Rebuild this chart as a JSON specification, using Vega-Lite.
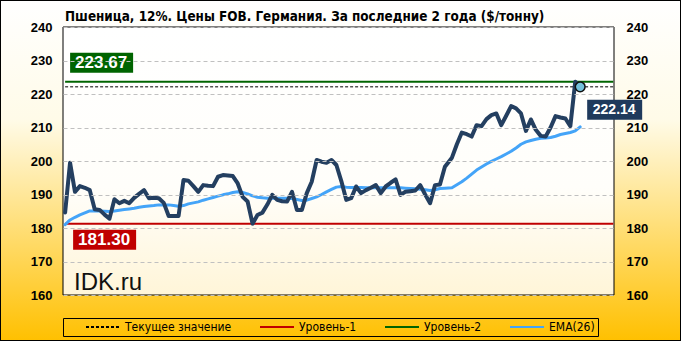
{
  "$schema": "https://vega.github.io/schema/vega-lite/v6.json",
  "width": 681,
  "height": 341,
  "autosize": {"type": "none"},
  "padding": 0,
  "view": {
    "fill": {"gradient": "linear", "x1": 0, "y1": 0, "x2": 0, "y2": 1, "stops": [{"offset": 0, "color": "#ffffff"}, {"offset": 0.35, "color": "#fffbe8"}, {"offset": 1, "color": "#ffc000"}]},
    "stroke": "black",
    "strokeWidth": 2
  },
  "title": {
    "text": "Пшеница, 12%. Цены FOB. Германия. За последние 2 года ($/тонну)",
    "anchor": "start", "frame": "group", "dx": 65, "offset": -23,
    "font": "DejaVu Sans Condensed", "fontSize": 13.4, "fontWeight": "bold", "color": "black"
  },
  "datasets": {
    "prices": [
      {"date": "2016-07-15", "price": 184.6, "ema": 181.0},
      {"date": "2016-07-22", "price": 199.5, "ema": 182.4},
      {"date": "2016-07-29", "price": 190.8, "ema": 183.2},
      {"date": "2016-08-05", "price": 192.5, "ema": 183.9},
      {"date": "2016-08-12", "price": 192.0, "ema": 184.5},
      {"date": "2016-08-19", "price": 191.3, "ema": 185.1},
      {"date": "2016-08-26", "price": 185.6, "ema": 185.1},
      {"date": "2016-09-02", "price": 185.4, "ema": 185.1},
      {"date": "2016-09-09", "price": 184.0, "ema": 185.0},
      {"date": "2016-09-16", "price": 182.8, "ema": 184.9},
      {"date": "2016-09-23", "price": 188.6, "ema": 185.1},
      {"date": "2016-09-30", "price": 187.4, "ema": 185.3},
      {"date": "2016-10-07", "price": 188.1, "ema": 185.5},
      {"date": "2016-10-14", "price": 187.4, "ema": 185.7},
      {"date": "2016-10-21", "price": 189.0, "ema": 185.9},
      {"date": "2016-10-28", "price": 190.2, "ema": 186.2},
      {"date": "2016-11-04", "price": 191.3, "ema": 186.4},
      {"date": "2016-11-11", "price": 188.9, "ema": 186.6},
      {"date": "2016-11-18", "price": 189.0, "ema": 186.7},
      {"date": "2016-11-25", "price": 188.9, "ema": 186.9},
      {"date": "2016-12-02", "price": 187.5, "ema": 186.9},
      {"date": "2016-12-09", "price": 183.6, "ema": 186.9},
      {"date": "2016-12-16", "price": 183.6, "ema": 186.7},
      {"date": "2016-12-23", "price": 183.6, "ema": 186.5},
      {"date": "2016-12-30", "price": 194.3, "ema": 186.7},
      {"date": "2017-01-06", "price": 194.1, "ema": 187.2},
      {"date": "2017-01-13", "price": 192.5, "ema": 187.5},
      {"date": "2017-01-20", "price": 190.8, "ema": 187.8},
      {"date": "2017-01-27", "price": 192.8, "ema": 188.3},
      {"date": "2017-02-03", "price": 192.6, "ema": 188.7},
      {"date": "2017-02-10", "price": 192.5, "ema": 189.1},
      {"date": "2017-02-17", "price": 195.3, "ema": 189.5},
      {"date": "2017-02-24", "price": 195.8, "ema": 189.9},
      {"date": "2017-03-03", "price": 195.7, "ema": 190.2},
      {"date": "2017-03-10", "price": 195.5, "ema": 190.6},
      {"date": "2017-03-17", "price": 193.3, "ema": 190.8},
      {"date": "2017-03-24", "price": 189.3, "ema": 190.6},
      {"date": "2017-03-31", "price": 187.9, "ema": 190.2},
      {"date": "2017-04-07", "price": 181.3, "ema": 189.6},
      {"date": "2017-04-14", "price": 183.9, "ema": 189.2},
      {"date": "2017-04-21", "price": 184.6, "ema": 189.0},
      {"date": "2017-04-28", "price": 187.0, "ema": 188.9},
      {"date": "2017-05-05", "price": 189.9, "ema": 188.9},
      {"date": "2017-05-12", "price": 188.4, "ema": 188.9},
      {"date": "2017-05-19", "price": 188.0, "ema": 188.9},
      {"date": "2017-05-26", "price": 187.9, "ema": 188.9},
      {"date": "2017-06-02", "price": 190.8, "ema": 188.8},
      {"date": "2017-06-09", "price": 185.4, "ema": 188.5},
      {"date": "2017-06-16", "price": 185.4, "ema": 188.2},
      {"date": "2017-06-23", "price": 190.4, "ema": 188.3},
      {"date": "2017-06-30", "price": 193.8, "ema": 188.8},
      {"date": "2017-07-07", "price": 200.3, "ema": 189.3},
      {"date": "2017-07-14", "price": 199.8, "ema": 190.0},
      {"date": "2017-07-21", "price": 199.5, "ema": 190.8},
      {"date": "2017-07-28", "price": 200.3, "ema": 191.5},
      {"date": "2017-08-04", "price": 198.8, "ema": 192.2},
      {"date": "2017-08-11", "price": 194.0, "ema": 192.4},
      {"date": "2017-08-18", "price": 188.4, "ema": 192.2},
      {"date": "2017-08-25", "price": 188.9, "ema": 192.1},
      {"date": "2017-09-01", "price": 192.4, "ema": 192.1},
      {"date": "2017-09-08", "price": 190.4, "ema": 192.1},
      {"date": "2017-09-15", "price": 191.3, "ema": 192.0},
      {"date": "2017-09-22", "price": 192.0, "ema": 192.0},
      {"date": "2017-09-29", "price": 192.8, "ema": 192.0},
      {"date": "2017-10-06", "price": 190.4, "ema": 192.0},
      {"date": "2017-10-13", "price": 192.4, "ema": 192.0},
      {"date": "2017-10-20", "price": 193.5, "ema": 192.0},
      {"date": "2017-10-27", "price": 194.5, "ema": 192.0},
      {"date": "2017-11-03", "price": 189.9, "ema": 192.0},
      {"date": "2017-11-10", "price": 190.8, "ema": 191.9},
      {"date": "2017-11-17", "price": 191.0, "ema": 191.8},
      {"date": "2017-11-24", "price": 191.2, "ema": 191.7},
      {"date": "2017-12-01", "price": 192.8, "ema": 191.6},
      {"date": "2017-12-08", "price": 190.0, "ema": 191.4},
      {"date": "2017-12-15", "price": 187.4, "ema": 191.2},
      {"date": "2017-12-22", "price": 192.8, "ema": 191.4},
      {"date": "2017-12-29", "price": 193.0, "ema": 191.8},
      {"date": "2018-01-05", "price": 198.3, "ema": 191.9},
      {"date": "2018-01-15", "price": 201.0, "ema": 192.0},
      {"date": "2018-01-22", "price": 205.0, "ema": 192.9},
      {"date": "2018-01-29", "price": 208.5, "ema": 193.8},
      {"date": "2018-02-05", "price": 208.0, "ema": 194.9},
      {"date": "2018-02-12", "price": 207.3, "ema": 196.1},
      {"date": "2018-02-19", "price": 210.7, "ema": 197.3},
      {"date": "2018-02-26", "price": 210.4, "ema": 198.2},
      {"date": "2018-03-05", "price": 212.5, "ema": 199.1},
      {"date": "2018-03-12", "price": 213.7, "ema": 199.9},
      {"date": "2018-03-19", "price": 214.2, "ema": 200.6},
      {"date": "2018-03-26", "price": 210.7, "ema": 201.3},
      {"date": "2018-04-02", "price": 213.5, "ema": 202.1},
      {"date": "2018-04-09", "price": 216.4, "ema": 202.9},
      {"date": "2018-04-16", "price": 215.7, "ema": 203.9},
      {"date": "2018-04-23", "price": 214.2, "ema": 205.0},
      {"date": "2018-04-30", "price": 209.0, "ema": 205.7},
      {"date": "2018-05-07", "price": 212.4, "ema": 206.1},
      {"date": "2018-05-14", "price": 209.3, "ema": 206.5},
      {"date": "2018-05-21", "price": 207.5, "ema": 206.8},
      {"date": "2018-05-28", "price": 207.3, "ema": 206.9},
      {"date": "2018-06-04", "price": 210.0, "ema": 207.0},
      {"date": "2018-06-11", "price": 213.4, "ema": 207.4},
      {"date": "2018-06-18", "price": 213.0, "ema": 207.9},
      {"date": "2018-06-25", "price": 212.7, "ema": 208.2},
      {"date": "2018-07-02", "price": 210.4, "ema": 208.5},
      {"date": "2018-07-09", "price": 223.67, "ema": 209.0},
      {"date": "2018-07-16", "price": 222.14, "ema": 210.2}
    ],
    "levels": [
      {"series": "Текущее значение", "value": 222.14, "label": "222.14"},
      {"series": "Уровень-1", "value": 181.30, "label": "181.30"},
      {"series": "Уровень-2", "value": 223.67, "label": "223.67"}
    ]
  },
  "resolve": {"axis": {"y": "independent"}},
  "layer": [
    {
      "data": {"values": [{"from": "2016-07-12", "to": "2018-09-02", "lo": 160, "hi": 240}]},
      "mark": {
        "type": "rect", "stroke": "black", "strokeWidth": 1,
        "fill": {"gradient": "linear", "x1": 0, "y1": 0, "x2": 0, "y2": 1, "stops": [{"offset": 0, "color": "#ffffff"}, {"offset": 0.6, "color": "#fffefa"}, {"offset": 1, "color": "#fff5d8"}]}
      },
      "encoding": {
        "x": {
          "field": "from", "type": "temporal",
          "scale": {"type": "utc", "domain": [{"year": 2016, "month": 7, "date": 12, "utc": true}, {"year": 2018, "month": 9, "date": 2, "utc": true}], "range": [63, 614], "nice": false},
          "axis": {
            "orient": "bottom", "offset": -46, "title": null,
            "values": [{"year": 2016, "month": 7, "date": 15, "utc": true}, {"year": 2017, "month": 1, "date": 13, "utc": true}, {"year": 2017, "month": 7, "date": 14, "utc": true}, {"year": 2018, "month": 1, "date": 15, "utc": true}, {"year": 2018, "month": 7, "date": 16, "utc": true}],
            "format": "%d.%m.%Y", "labelFont": "Liberation Sans", "labelFontWeight": "bold", "labelFontSize": 12, "labelColor": "black",
            "labelPadding": 5, "ticks": false, "domain": false, "labelOverlap": false, "labelFlush": false,
            "grid": true, "gridColor": "#c0c0c0", "gridDash": [4, 3], "gridWidth": 1, "zindex": 1
          }
        },
        "x2": {"field": "to"},
        "y": {
          "field": "lo", "type": "quantitative",
          "scale": {"domain": [160, 240], "range": [295, 27], "nice": false, "zero": false},
          "axis": {
            "orient": "left", "offset": -63, "title": null, "values": [160, 170, 180, 190, 200, 210, 220, 230, 240],
            "labelFont": "Liberation Sans", "labelFontWeight": "bold", "labelFontSize": 13, "labelColor": "black",
            "labelPadding": 11, "ticks": false, "domain": false,
            "grid": true, "gridColor": "#c0c0c0", "gridDash": [4, 3], "gridWidth": 1,
            "zindex": 1
          }
        },
        "y2": {"field": "hi"}
      }
    },
    {
      "data": {"name": "levels"},
      "mark": {"type": "rule"},
      "encoding": {
        "x": {"datum": {"year": 2016, "month": 7, "date": 15, "utc": true}, "type": "temporal", "axis": null},
        "x2": {"datum": {"year": 2018, "month": 9, "date": 1, "utc": true}},
        "y": {
          "field": "value", "type": "quantitative",
          "axis": {
            "orient": "right", "offset": -67, "title": null, "values": [160, 170, 180, 190, 200, 210, 220, 230, 240],
            "labelFont": "Liberation Sans", "labelFontWeight": "bold", "labelFontSize": 13, "labelColor": "black",
            "labelPadding": 12, "ticks": false, "domain": false, "grid": false, "zindex": 1
          }
        },
        "color": {
          "field": "series", "type": "nominal",
          "scale": {"domain": ["Текущее значение", "Уровень-1", "Уровень-2", "EMA(26)"], "range": ["#000000", "#c00000", "#006400", "#44a4f8"]},
          "legend": {
            "orient": "none", "legendX": 63, "legendY": 318, "direction": "horizontal", "columns": 4,
            "title": "\u00a0", "titleOrient": "left", "titlePadding": 19, "titleFontSize": 12,
            "strokeColor": "black", "padding": 3, "symbolType": "stroke", "symbolSize": 1156, "symbolStrokeWidth": 2,
            "labelOffset": 4, "columnPadding": 27, "clipHeight": 12,
            "labelFont": "DejaVu Sans Condensed", "labelFontSize": 12, "labelColor": "black", "labelLimit": 300,
            "labelExpr": "datum.label === 'EMA(26)' ? 'EMA(26)\u00a0\u00a0\u00a0\u00a0\u00a0' : datum.label"
          }
        },
        "strokeDash": {
          "field": "series", "type": "nominal",
          "scale": {"domain": ["Текущее значение", "Уровень-1", "Уровень-2", "EMA(26)"], "range": [[3, 2], [1, 0], [1, 0], [1, 0]]},
          "legend": {
            "orient": "none", "legendX": 63, "legendY": 318, "direction": "horizontal", "columns": 4,
            "title": "\u00a0", "titleOrient": "left", "titlePadding": 19, "titleFontSize": 12,
            "strokeColor": "black", "padding": 3, "symbolType": "stroke", "symbolSize": 1156, "symbolStrokeWidth": 2,
            "labelOffset": 4, "columnPadding": 27, "clipHeight": 12,
            "labelFont": "DejaVu Sans Condensed", "labelFontSize": 12, "labelColor": "black", "labelLimit": 300,
            "labelExpr": "datum.label === 'EMA(26)' ? 'EMA(26)\u00a0\u00a0\u00a0\u00a0\u00a0' : datum.label"
          }
        },
        "strokeWidth": {"condition": {"test": "datum.series === 'Текущее значение'", "value": 1}, "value": 2}
      }
    },
    {
      "data": {"name": "prices"},
      "mark": {"type": "line", "strokeWidth": 3, "strokeJoin": "round", "strokeCap": "round"},
      "encoding": {
        "x": {"field": "date", "type": "temporal", "axis": null},
        "y": {"field": "ema", "type": "quantitative", "axis": null},
        "color": {"datum": "EMA(26)"}
      }
    },
    {
      "data": {"name": "prices"},
      "mark": {"type": "line", "strokeWidth": 4, "strokeJoin": "round", "strokeCap": "round", "color": "#243f60"},
      "encoding": {
        "x": {"field": "date", "type": "temporal", "axis": null},
        "y": {"field": "price", "type": "quantitative", "axis": null}
      }
    },
    {
      "data": {"name": "levels"},
      "transform": [{"filter": "datum.series === 'Текущее значение'"}],
      "mark": {"type": "point", "shape": "circle", "filled": true, "size": 95, "fill": "#74c0da", "stroke": "#111111", "strokeWidth": 1.5, "opacity": 1},
      "encoding": {
        "x": {"datum": {"year": 2018, "month": 7, "date": 16, "utc": true}, "type": "temporal", "axis": null},
        "y": {"field": "value", "type": "quantitative", "axis": null}
      }
    },
    {
      "data": {"name": "levels"},
      "transform": [{"filter": "datum.series === 'Текущее значение'"}],
      "mark": {"type": "point", "shape": "M7,13H62V33H7Z", "filled": true, "size": 4, "fill": "#1f3a5c", "strokeWidth": 0, "opacity": 1},
      "encoding": {
        "x": {"datum": {"year": 2018, "month": 7, "date": 16, "utc": true}, "type": "temporal", "axis": null},
        "y": {"field": "value", "type": "quantitative", "axis": null}
      }
    },
    {
      "data": {"name": "levels"},
      "transform": [{"filter": "datum.series === 'Текущее значение'"}],
      "mark": {"type": "text", "dx": 34, "dy": 23, "align": "center", "baseline": "middle", "font": "Liberation Sans", "fontSize": 14, "fontWeight": "bold", "color": "white"},
      "encoding": {
        "x": {"datum": {"year": 2018, "month": 7, "date": 16, "utc": true}, "type": "temporal", "axis": null},
        "y": {"field": "value", "type": "quantitative", "axis": null},
        "text": {"field": "label"}
      }
    },
    {
      "data": {"name": "levels"},
      "transform": [{"filter": "datum.series === 'Уровень-2'"}],
      "mark": {"type": "point", "shape": "M5,-29H68V-9H5Z", "filled": true, "size": 4, "fill": "#006400", "strokeWidth": 0, "opacity": 1},
      "encoding": {
        "x": {"datum": {"year": 2016, "month": 7, "date": 15, "utc": true}, "type": "temporal", "axis": null},
        "y": {"field": "value", "type": "quantitative", "axis": null}
      }
    },
    {
      "data": {"name": "levels"},
      "transform": [{"filter": "datum.series === 'Уровень-2'"}],
      "mark": {"type": "text", "dx": 36, "dy": -19, "align": "center", "baseline": "middle", "font": "Liberation Sans", "fontSize": 17, "fontWeight": "bold", "color": "white"},
      "encoding": {
        "x": {"datum": {"year": 2016, "month": 7, "date": 15, "utc": true}, "type": "temporal", "axis": null},
        "y": {"field": "value", "type": "quantitative", "axis": null},
        "text": {"field": "label"}
      }
    },
    {
      "data": {"name": "levels"},
      "transform": [{"filter": "datum.series === 'Уровень-1'"}],
      "mark": {"type": "point", "shape": "M8,6H71V26H8Z", "filled": true, "size": 4, "fill": "#c00000", "strokeWidth": 0, "opacity": 1},
      "encoding": {
        "x": {"datum": {"year": 2016, "month": 7, "date": 15, "utc": true}, "type": "temporal", "axis": null},
        "y": {"field": "value", "type": "quantitative", "axis": null}
      }
    },
    {
      "data": {"name": "levels"},
      "transform": [{"filter": "datum.series === 'Уровень-1'"}],
      "mark": {"type": "text", "dx": 39, "dy": 16, "align": "center", "baseline": "middle", "font": "Liberation Sans", "fontSize": 17, "fontWeight": "bold", "color": "white"},
      "encoding": {
        "x": {"datum": {"year": 2016, "month": 7, "date": 15, "utc": true}, "type": "temporal", "axis": null},
        "y": {"field": "value", "type": "quantitative", "axis": null},
        "text": {"field": "label"}
      }
    },
    {
      "data": {"values": [{"site": "IDK.ru"}]},
      "mark": {"type": "text", "dx": 9, "dy": -5, "align": "left", "baseline": "alphabetic", "font": "Liberation Sans", "fontSize": 24, "color": "#111111"},
      "encoding": {
        "x": {"datum": {"year": 2016, "month": 7, "date": 15, "utc": true}, "type": "temporal", "axis": null},
        "y": {"datum": 160, "type": "quantitative", "axis": null},
        "text": {"field": "site"}
      }
    }
  ]
}
